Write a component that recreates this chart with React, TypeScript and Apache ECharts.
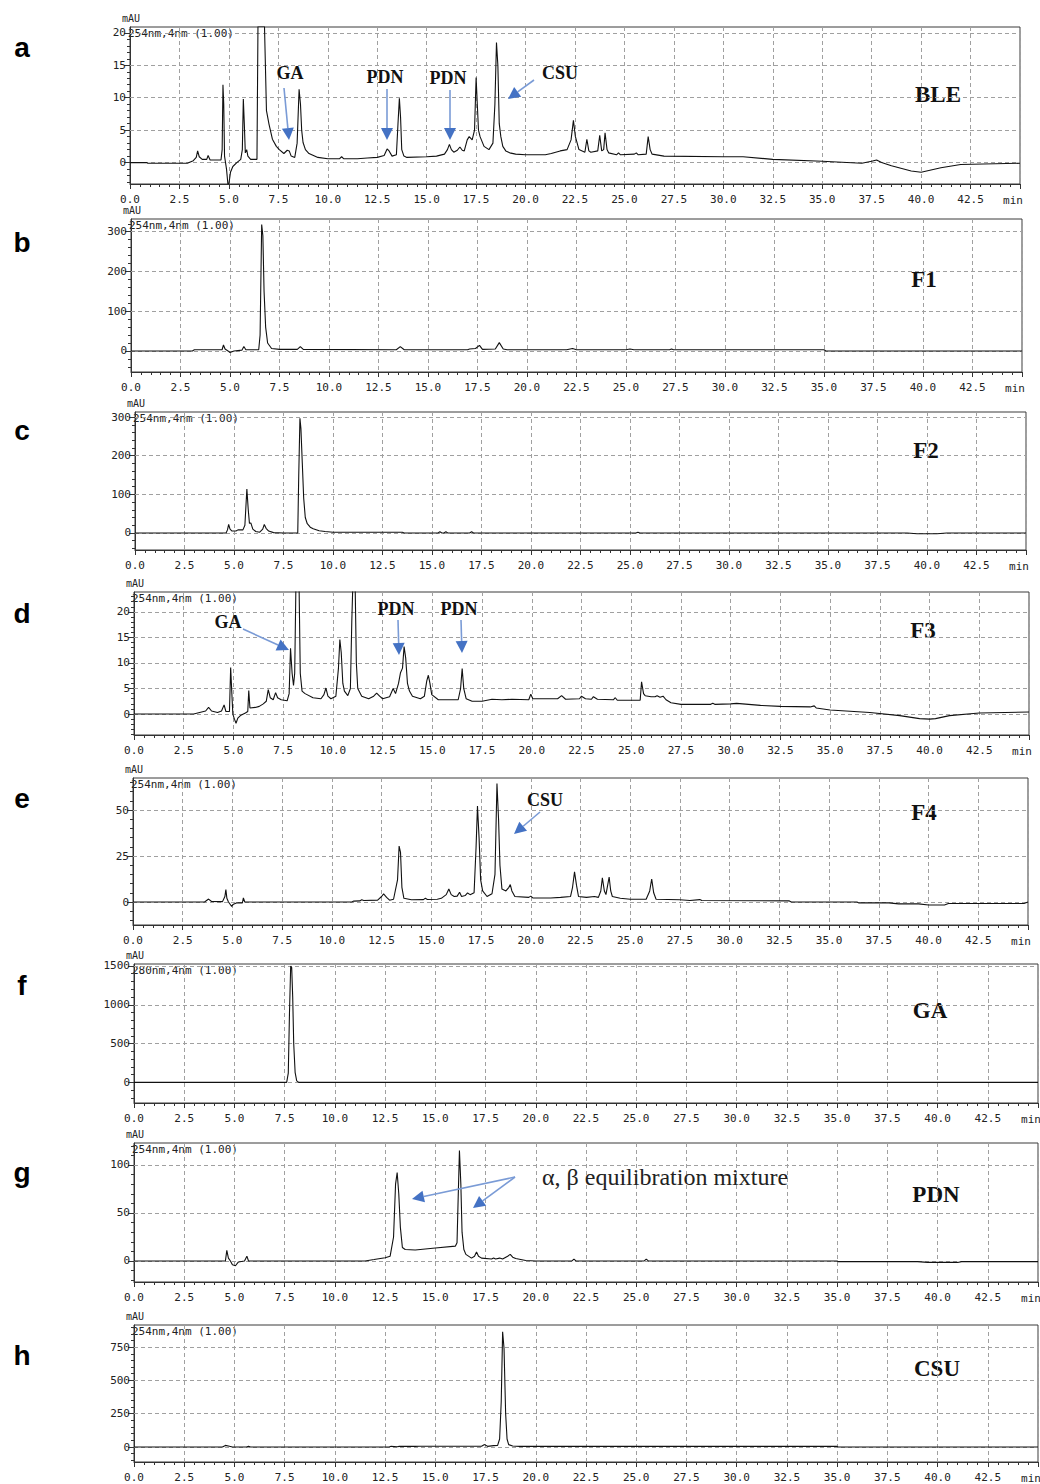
import React, { useEffect, useRef } from 'react';
import * as echarts from 'echarts';

// ---------- DATA (time in min, absorbance in mAU) ----------
const BLE: number[][] = [
  [0,0],[0.85,0],[0.9,-0.1],[2.9,-0.1],[3.2,0.3],[3.35,0.8],[3.42,1.8],[3.5,0.9],[3.65,0.5],[3.88,0.5],[3.95,1.1],[4.05,0.4],[4.6,0.4],[4.66,2],[4.7,12],[4.74,9],[4.78,1],[4.88,-1],[4.95,-3.3],[5.0,-3.3],[5.08,-1.5],[5.2,-0.6],[5.4,0],[5.6,0.5],[5.68,2],[5.73,9.8],[5.78,6],[5.83,1.5],[5.9,2],[5.96,1],[6.1,0.5],[6.42,0.5],[6.47,21],[6.8,21],[6.9,8],[7.03,5.9],[7.2,3.6],[7.4,2.5],[7.55,2],[7.78,1.4],[7.95,1.9],[8.05,1.8],[8.15,1.0],[8.33,0.8],[8.45,3],[8.55,11.3],[8.62,9],[8.68,5],[8.75,3.1],[8.87,2],[9.05,1.4],[9.5,0.8],[10,0.6],[10.6,0.6],[10.7,0.9],[10.8,0.6],[11.5,0.6],[12,0.7],[12.5,0.8],[12.85,1.1],[13.0,2.1],[13.1,1.8],[13.25,1.0],[13.47,1.2],[13.55,6],[13.62,9.9],[13.68,7],[13.74,2],[13.85,1.0],[14,0.8],[15,0.9],[15.5,1.0],[15.9,1.3],[16.05,2],[16.15,2.8],[16.25,2],[16.37,1.6],[16.55,1.9],[16.68,2.4],[16.8,1.9],[16.9,1.8],[17.05,3.5],[17.15,4.0],[17.3,3.5],[17.42,5],[17.5,13.1],[17.56,9],[17.62,5],[17.7,4],[17.9,2.5],[18.15,2.0],[18.35,3],[18.45,9],[18.53,18.5],[18.6,15],[18.67,6],[18.75,4],[18.85,2.5],[19.0,1.8],[19.2,1.5],[19.5,1.3],[20,1.2],[21,1.2],[21.3,1.4],[21.75,1.8],[22.1,2.0],[22.3,3.5],[22.42,6.5],[22.52,4],[22.7,2.0],[23.0,1.6],[23.1,3.6],[23.2,1.8],[23.3,1.6],[23.65,1.8],[23.75,4.2],[23.85,1.8],[23.95,2],[24.02,4.6],[24.12,2],[24.2,1.5],[24.6,1.2],[24.7,1.5],[24.8,1.2],[25.5,1.3],[25.6,1.5],[25.7,1.2],[26.1,1.3],[26.2,4.0],[26.3,2],[26.4,1.3],[27,1.0],[30,0.9],[31,0.9],[32.5,0.5],[35,0.2],[37,-0.1],[37.5,0.2],[37.75,0.4],[38,0],[38.5,-0.5],[39.5,-1.3],[40,-1.5],[41,-0.8],[42,-0.3],[45,-0.1],
];
const F1: number[][] = [
  [0,0],[3.1,0],[3.2,3],[4.6,3],[4.67,15],[4.75,5],[4.9,0],[5.0,-4],[5.2,0],[5.6,2],[5.7,11],[5.8,3],[6.45,3],[6.52,40],[6.6,318],[6.66,290],[6.72,150],[6.8,60],[6.9,20],[7.1,6],[7.5,4],[8.4,4],[8.55,11],[8.7,4],[13.4,3],[13.6,11],[13.8,3],[17.0,3],[17.1,5],[17.4,6],[17.6,14],[17.75,4],[18.4,5],[18.6,21],[18.8,5],[19,3],[22,3],[22.3,6],[22.5,3],[25,3],[25.2,5],[25.4,3],[27.2,3],[27.3,5],[27.4,3],[35,3],[35.1,0],[45,0],
];
const F2: number[][] = [
  [0,0],[4.6,0],[4.67,8],[4.73,22],[4.8,10],[4.9,5],[5.1,5],[5.2,8],[5.45,8],[5.55,20],[5.65,114],[5.72,60],[5.78,25],[5.85,26],[5.95,10],[6.1,4],[6.3,2],[6.45,10],[6.53,22],[6.62,12],[6.75,5],[7.0,1],[7.5,0],[8.22,0],[8.27,150],[8.33,297],[8.38,270],[8.45,180],[8.52,90],[8.6,40],[8.7,24],[8.85,15],[9.0,11],[9.3,6],[9.6,4],[10,2],[13.5,2],[13.6,0],[15.3,0],[15.4,3],[15.5,0],[15.6,0],[15.7,3],[15.8,0],[16.9,0],[17,3],[17.1,0],[25.3,0],[25.4,2],[25.5,0],[39,0],[39.5,-2],[40.5,-2],[41,0],[45,0],
];
const F3: number[][] = [
  [0,0],[3.0,0],[3.4,0.4],[3.6,0.6],[3.75,1.3],[3.9,0.6],[4.2,0.3],[4.4,0.6],[4.53,1.8],[4.62,0.5],[4.8,0.5],[4.86,9.1],[4.92,4],[4.97,0],[5.05,-1],[5.13,-1.8],[5.22,-0.8],[5.35,-0.3],[5.6,0.2],[5.72,0.5],[5.77,4.6],[5.83,1.2],[6.1,1.3],[6.3,1.5],[6.5,2.0],[6.65,2.5],[6.75,4.8],[6.85,3.2],[7.0,2.8],[7.12,4.2],[7.22,3.2],[7.4,2.8],[7.7,2.6],[7.8,4],[7.87,12.9],[7.95,8],[8.02,5.6],[8.08,8],[8.14,25],[8.3,25],[8.36,8],[8.45,4.5],[8.6,4],[9.0,3.2],[9.4,3.0],[9.55,3.8],[9.65,5.1],[9.75,3.5],[9.9,3],[10.15,3.5],[10.28,9],[10.35,14.6],[10.42,12],[10.5,6],[10.58,4.5],[10.75,3.6],[10.88,5],[10.95,18],[11.0,25],[11.12,25],[11.18,10],[11.25,5],[11.45,3.5],[11.8,3.0],[12.05,3.5],[12.2,4.1],[12.35,3.5],[12.5,3],[12.85,3.4],[13.03,5],[13.15,4],[13.3,6],[13.4,8.1],[13.5,9],[13.58,13.2],[13.66,11],[13.75,6],[13.85,4.5],[14.0,3.5],[14.4,3.0],[14.6,3.5],[14.72,6.5],[14.8,7.6],[14.88,6],[14.97,3.8],[15.3,2.8],[16.3,2.8],[16.42,5],[16.5,8.9],[16.58,5],[16.7,3],[17.0,2.5],[17.5,2.5],[18.0,2.9],[18.5,2.8],[19.0,2.9],[19.85,2.8],[19.95,3.9],[20.05,3.0],[21.3,3.0],[21.5,3.6],[21.7,2.9],[22.4,3.0],[22.5,3.5],[22.7,3.0],[23.0,2.9],[23.1,3.4],[23.3,2.9],[24.1,2.8],[24.2,3.2],[24.3,2.7],[25.45,2.7],[25.52,6.3],[25.62,4],[25.7,3.6],[26.0,3.4],[26.2,3.4],[26.3,3.6],[26.45,3.3],[26.6,3.5],[26.75,2.8],[27,2.2],[27.5,1.9],[29,1.9],[29.1,2.1],[29.2,1.9],[30,2.0],[30.3,2.1],[31.5,1.7],[32.5,1.5],[34,1.4],[34.2,1.6],[34.3,1.2],[35,0.8],[37,0.3],[38.5,-0.3],[39.5,-0.9],[40.0,-1.0],[40.3,-0.9],[41,-0.3],[42.5,0.2],[45,0.4],
];
const F4: number[][] = [
  [0,0],[3.6,0],[3.8,1.6],[3.95,0.3],[4.5,0.2],[4.62,3],[4.67,6.7],[4.72,2],[4.8,0],[4.9,-1.5],[4.96,-2.4],[5.05,-1.2],[5.2,-0.5],[5.5,-0.5],[5.55,2.2],[5.62,0],[11.0,0],[11.1,0.5],[11.4,0.6],[11.5,1.2],[11.6,0.8],[12.3,1.0],[12.5,3],[12.6,4.4],[12.75,2.5],[12.9,1.0],[13.1,1.5],[13.3,12],[13.38,30.4],[13.45,27],[13.52,8],[13.62,2],[14.0,1.2],[14.6,1.3],[14.7,2],[14.8,1.4],[15.3,1.5],[15.5,2],[15.75,4],[15.88,7.1],[16.0,4],[16.15,3],[16.3,3.2],[16.42,5.3],[16.52,3],[16.7,3.5],[16.82,4.9],[16.95,4],[17.15,5],[17.25,30],[17.32,52.2],[17.4,35],[17.48,12],[17.58,6],[17.8,3],[18.05,4.5],[18.2,15],[18.3,64.4],[18.38,45],[18.45,20],[18.55,7],[18.75,6],[18.9,8],[18.97,9.5],[19.05,6],[19.2,3],[19.9,2.5],[20,3.2],[20.1,2.2],[21,2.2],[21.5,2.5],[22,3],[22.1,8],[22.2,16.4],[22.3,9],[22.4,3],[22.8,2.5],[23.2,3],[23.4,2.5],[23.52,6],[23.6,13.1],[23.7,6],[23.78,4],[23.88,10],[23.94,13.6],[24.02,6],[24.1,3],[24.5,2],[25,1.5],[25.8,1.5],[25.98,6],[26.08,12.5],[26.18,5],[26.3,1.5],[27.5,1.2],[28.0,0.8],[28.5,1.3],[28.6,0.8],[33,0.6],[33.1,0],[36.4,0],[36.5,-0.5],[38,-0.5],[38.5,-1],[39.5,-1.0],[40,-1.6],[40.8,-1.6],[41,-0.8],[44.8,-0.8],[45,0],
];
const GA: number[][] = [
  [0,0],[7.6,0],[7.68,120],[7.74,900],[7.8,1500],[7.85,1480],[7.9,1100],[7.95,500],[8.02,130],[8.1,20],[8.2,0],[45,0],
];
const PDN: number[][] = [
  [0,0],[4.55,0],[4.62,11],[4.7,3],[4.8,0],[4.9,-4],[5.05,-5],[5.2,-1],[5.5,0],[5.62,5],[5.7,0],[11.5,0],[11.95,1.5],[12.5,3.4],[12.75,5],[12.92,25],[13.02,80],[13.1,92],[13.18,70],[13.26,35],[13.36,14],[13.5,12],[14,11.5],[15,13.5],[16,15.5],[16.08,19],[16.13,60],[16.2,115],[16.27,80],[16.33,30],[16.42,12],[16.52,6.9],[16.8,3],[16.95,5],[17.05,9.3],[17.15,5],[17.3,3],[17.8,2],[17.9,3],[18.0,2],[18.2,3],[18.35,2],[18.6,5],[18.73,6.9],[18.85,4],[19.0,2.5],[19.5,0.5],[20,0],[21.8,0],[21.9,2],[22.0,0],[25.4,0],[25.5,2],[25.6,0],[35,0],[35.05,-0.7],[39.0,-0.7],[39.5,-1.5],[41,-1.5],[41.2,-0.7],[45,-0.7],
];
const CSU: number[][] = [
  [0,0],[4.4,0],[4.55,12],[4.75,6],[4.9,0],[5.6,0],[5.7,6],[5.8,0],[12.7,0],[12.8,5],[13.1,2],[13.2,5],[14.0,5],[14.2,6],[17.3,6],[17.45,18],[17.6,5],[17.9,10],[18.1,12],[18.2,60],[18.28,340],[18.35,865],[18.42,740],[18.5,250],[18.57,60],[18.65,18],[18.85,8],[19.2,5],[35,5],[35.05,0],[45,0],
];

// y tick labels per panel
const Y_TICKS_A = [0, 5, 10, 15, 20];
const Y_TICKS_B = [0, 100, 200, 300];
const Y_TICKS_C = [0, 100, 200, 300];
const Y_TICKS_D = [0, 5, 10, 15, 20];
const Y_TICKS_E = [0, 25, 50];
const Y_TICKS_F = [0, 500, 1000, 1500];
const Y_TICKS_G = [0, 50, 100];
const Y_TICKS_H = [0, 250, 500, 750];

const PANEL_LETTERS = ['a', 'b', 'c', 'd', 'e', 'f', 'g', 'h'];
const PANEL_NAMES = ['BLE', 'F1', 'F2', 'F3', 'F4', 'GA', 'PDN', 'CSU'];
const WAVELENGTHS = ['254nm,4nm (1.00)', '254nm,4nm (1.00)', '254nm,4nm (1.00)', '254nm,4nm (1.00)', '254nm,4nm (1.00)', '280nm,4nm (1.00)', '254nm,4nm (1.00)', '254nm,4nm (1.00)'];
const SERIES_DATA = [BLE, F1, F2, F3, F4, GA, PDN, CSU];
const Y_TICKS = [Y_TICKS_A, Y_TICKS_B, Y_TICKS_C, Y_TICKS_D, Y_TICKS_E, Y_TICKS_F, Y_TICKS_G, Y_TICKS_H];
const Y_RANGES = [[-3.3, 20.9], [-53, 332], [-44, 313], [-4.1, 23.9], [-12.5, 67.4], [-265, 1525], [-21.9, 122.9], [-112.6, 916]];
const Y_MINOR_STEP = [1, 20, 20, 1, 5, 100, 10, 50];

// ---------- LAYOUT ----------
const LAYOUT = [
  { left: 130, top: 27, width: 890, height: 157, letterY: 47, nameX: 938, nameY: 94 },
  { left: 131, top: 219, width: 891, height: 153, letterY: 242, nameX: 924, nameY: 279 },
  { left: 135, top: 412, width: 891, height: 138, letterY: 430, nameX: 926, nameY: 450 },
  { left: 134, top: 592, width: 895, height: 143, letterY: 613, nameX: 923, nameY: 630 },
  { left: 133, top: 778, width: 895, height: 147, letterY: 798, nameX: 924, nameY: 812 },
  { left: 134, top: 964, width: 904, height: 139, letterY: 985, nameX: 930, nameY: 1010 },
  { left: 134, top: 1143, width: 904, height: 139, letterY: 1172, nameX: 936, nameY: 1194 },
  { left: 134, top: 1325, width: 904, height: 137, letterY: 1355, nameX: 937, nameY: 1368 },
];

// annotation labels and arrows (pixel positions)
const ANNOT_TEXTS = [
  { text: 'GA', x: 290, y: 73 }, { text: 'PDN', x: 385, y: 77 }, { text: 'PDN', x: 448, y: 78 }, { text: 'CSU', x: 560, y: 73 },
  { text: 'GA', x: 228, y: 622 }, { text: 'PDN', x: 396, y: 609 }, { text: 'PDN', x: 459, y: 609 },
  { text: 'CSU', x: 545, y: 800 },
];
const ANNOT_ARROWS = [
  [284, 88, 289, 140], [387, 89, 387, 140], [450, 90, 450, 140], [534, 80, 508, 99],
  [243, 629, 289, 650], [398, 620, 399, 655], [461, 620, 462, 653],
  [540, 812, 514, 834],
  [515, 1177, 412, 1199], [515, 1177, 473, 1208],
];

const MONO = "'DejaVu Sans Mono', 'Liberation Mono', monospace";
const SERIF = "'Liberation Serif', 'Times New Roman', serif";
const SANS = "'Liberation Sans', Arial, sans-serif";
const GRID_LINE = { color: '#a0a0a0', type: [4, 3] as any, width: 1 };

function arrow(x1: number, y1: number, x2: number, y2: number) {
  const dx = x2 - x1, dy = y2 - y1;
  const len = Math.hypot(dx, dy);
  const ux = dx / len, uy = dy / len;
  const hl = 12, hw = 6;
  const bx = x2 - ux * hl, by = y2 - uy * hl;
  return [
    { type: 'line', shape: { x1, y1, x2: bx, y2: by }, style: { stroke: '#7A9BD6', lineWidth: 1.6 }, z: 10 },
    { type: 'polygon', shape: { points: [[x2, y2], [bx - uy * hw, by + ux * hw], [bx + uy * hw, by - ux * hw]] }, style: { fill: '#4472C4' }, z: 10 },
  ];
}

function buildOption() {
  const grid: any[] = [], xAxis: any[] = [], yAxis: any[] = [], series: any[] = [], graphic: any[] = [];
  SERIES_DATA.forEach((data, i) => {
    const L = LAYOUT[i];
    const [yMin, yMax] = Y_RANGES[i];
    const ticks = Y_TICKS[i];
    const step = Y_MINOR_STEP[i];
    const minor: number[] = [];
    for (let v = Math.ceil(yMin / step) * step; v <= yMax + 1e-9; v += step) minor.push(Number(v.toFixed(6)));
    grid.push({ left: L.left, top: L.top, width: L.width, height: L.height, show: true, borderColor: '#3a3a3a', borderWidth: 1 });
    xAxis.push({
      type: 'value', gridIndex: i, min: 0, max: 45, interval: 2.5, position: 'bottom',
      axisLine: { show: true, onZero: false, lineStyle: { color: '#333' } },
      axisTick: { show: true, length: 5, lineStyle: { color: '#333' } },
      minorTick: { show: true, splitNumber: 5, length: 3, lineStyle: { color: '#333' } },
      axisLabel: { show: true, margin: 10, color: '#222', fontFamily: MONO, fontSize: 11, showMaxLabel: false, formatter: (v: number) => v.toFixed(1) },
      splitLine: { show: true, lineStyle: GRID_LINE },
    });
    yAxis.push({
      type: 'value', gridIndex: i, min: yMin, max: yMax, position: 'left',
      axisLine: { show: true, onZero: false, lineStyle: { color: '#333' } },
      axisTick: { show: true, length: 6, customValues: ticks, lineStyle: { color: '#333' } },
      axisLabel: { show: true, customValues: ticks, margin: 4, color: '#222', fontFamily: MONO, fontSize: 11, formatter: (v: number) => String(v) },
      splitLine: { show: false },
    });
    yAxis.push({
      type: 'value', gridIndex: i, min: yMin, max: yMax, position: 'left',
      axisLine: { show: false },
      axisTick: { show: true, length: 3, customValues: minor, lineStyle: { color: '#333' } },
      axisLabel: { show: false },
      splitLine: { show: false },
    });
    series.push({
      type: 'line', xAxisIndex: i, yAxisIndex: 2 * i, data, showSymbol: false, symbol: 'none', silent: true, clip: true, z: 3,
      lineStyle: { color: '#111', width: 1.1 },
      markLine: {
        silent: true, symbol: 'none', z: 1, label: { show: false }, lineStyle: GRID_LINE,
        data: ticks.map((v) => ({ yAxis: v })),
      },
    });
    graphic.push(
      { type: 'text', x: 22, y: L.letterY, style: { text: PANEL_LETTERS[i], fill: '#000', font: `bold 28px ${SANS}`, textAlign: 'center', textVerticalAlign: 'middle' } },
      { type: 'text', x: L.nameX, y: L.nameY, style: { text: PANEL_NAMES[i], fill: '#111', font: `bold 23px ${SERIF}`, textAlign: 'center', textVerticalAlign: 'middle' } },
      { type: 'text', x: L.left - 8, y: L.top - 9, style: { text: 'mAU', fill: '#222', font: `10px ${MONO}`, textAlign: 'left', textVerticalAlign: 'middle' } },
      { type: 'text', x: L.left - 2, y: L.top + 6, style: { text: WAVELENGTHS[i], fill: '#222', font: `11px ${MONO}`, textAlign: 'left', textVerticalAlign: 'middle' } },
      { type: 'text', x: L.left + L.width - 7, y: L.top + L.height + 16, style: { text: 'min', fill: '#222', font: `11px ${MONO}`, textAlign: 'center', textVerticalAlign: 'middle' } },
    );
  });
  ANNOT_TEXTS.forEach((a) => {
    graphic.push({ type: 'text', x: a.x, y: a.y, z: 10, style: { text: a.text, fill: '#111', font: `bold 18px ${SERIF}`, textAlign: 'center', textVerticalAlign: 'middle' } });
  });
  graphic.push({ type: 'text', x: 665, y: 1177, z: 10, style: { text: 'α, β equilibration mixture', fill: '#222', font: `24px ${SERIF}`, textAlign: 'center', textVerticalAlign: 'middle' } });
  ANNOT_ARROWS.forEach((a) => graphic.push(...arrow(a[0], a[1], a[2], a[3])));

  return { animation: false, backgroundColor: '#fff', grid, xAxis, yAxis, series, graphic };
}

export default function App() {
  const ref = useRef<HTMLDivElement>(null);
  useEffect(() => {
    if (!ref.current) return;
    const chart = echarts.init(ref.current, undefined, { renderer: 'svg' });
    chart.setOption(buildOption() as any);
    return () => chart.dispose();
  }, []);
  return <div ref={ref} style={{ position: 'absolute', left: 0, top: 0, width: 1040, height: 1484, background: '#fff' }} />;
}
